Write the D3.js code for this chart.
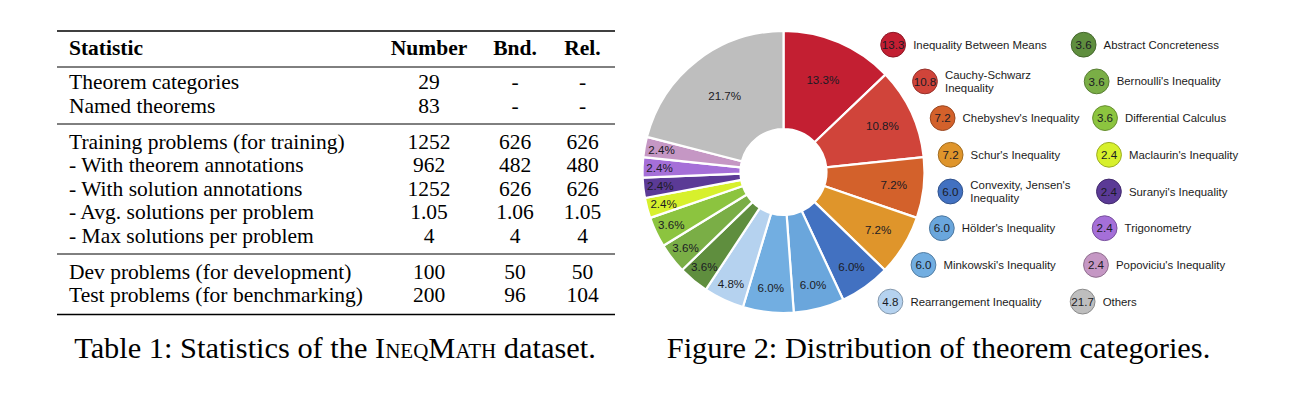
<!DOCTYPE html>
<html>
<head>
<meta charset="utf-8">
<script src="https://cdn.jsdelivr.net/npm/d3@7"></script>
<style>
  html, body { margin: 0; padding: 0; background: #fff; }
  svg { display: block; }
</style>
</head>
<body>
<svg id="chart" width="1295" height="395"></svg>
<script>
// ---------------- Data ----------------
// Table 1
const tableHeaders = ["Statistic", "Number", "Bnd.", "Rel."];
const statLabels = [
  "Theorem categories",
  "Named theorems",
  "Training problems (for training)",
  "- With theorem annotations",
  "- With solution annotations",
  "- Avg. solutions per problem",
  "- Max solutions per problem",
  "Dev problems (for development)",
  "Test problems (for benchmarking)"
];
const numberCol = ["29", "83", "1252", "962", "1252", "1.05", "4", "100", "200"];
const bndCol    = ["-", "-", "626", "482", "626", "1.06", "4", "50", "96"];
const relCol    = ["-", "-", "626", "480", "626", "1.05", "4", "50", "104"];
const sectionBreaksAfter = [1, 6];

// Figure 2: theorem categories (percent)
const categories = [
  "Inequality Between Means", "Cauchy-Schwarz\nInequality", "Chebyshev's Inequality",
  "Schur's Inequality", "Convexity, Jensen's\nInequality", "Hölder's Inequality",
  "Minkowski's Inequality", "Rearrangement Inequality", "Abstract Concreteness",
  "Bernoulli's Inequality", "Differential Calculus", "Maclaurin's Inequality",
  "Suranyi's Inequality", "Trigonometry", "Popoviciu's Inequality", "Others"
];
const shares = [13.3, 10.8, 7.2, 7.2, 6.0, 6.0, 6.0, 4.8, 3.6, 3.6, 3.6, 2.4, 2.4, 2.4, 2.4, 21.7];
const palette = [
  "#c31f32", "#d0443a", "#d3612b", "#df952b", "#4271c1", "#6aa6dc",
  "#72aee1", "#b5d2ef", "#5f8e3e", "#7aae46", "#8cc43f", "#d7f02c",
  "#5b3a96", "#a56fd8", "#c597c4", "#bebebe"
];

// ---------------- Drawing ----------------
const svg = d3.select("#chart");
const serif = "'Liberation Serif', 'Times New Roman', serif";
const sans = "'Liberation Sans', Arial, sans-serif";

// ----- Table -----
const tbl = svg.append("g");
const tableLeft = 57, tableRight = 615;
const colX = d3.scaleOrdinal().domain(["Number", "Bnd.", "Rel."]).range([429, 515, 582.5]);
const labelX = 69;
const headerBaseline = 55;
const rowBaseline = d3.scaleLinear().domain([0, 1]).range([89, 112.5]);
const sectionGap = 12.5;

function rowY(i) {
  let gaps = sectionBreaksAfter.filter(b => i > b).length;
  return rowBaseline(i) + gaps * sectionGap;
}

const fs = 21.5;
tbl.selectAll("text.hdr").data(tableHeaders).join("text")
  .attr("class", "hdr")
  .attr("x", (d, i) => i === 0 ? labelX : colX(d))
  .attr("y", headerBaseline)
  .attr("text-anchor", (d, i) => i === 0 ? "start" : "middle")
  .attr("font-family", serif).attr("font-weight", "bold").attr("font-size", fs)
  .attr("fill", "#000")
  .text(d => d);

const rows = statLabels.map((l, i) => ({ label: l, vals: [numberCol[i], bndCol[i], relCol[i]], i }));
const rg = tbl.selectAll("g.row").data(rows).join("g").attr("class", "row");
rg.append("text")
  .attr("x", labelX).attr("y", d => rowY(d.i))
  .attr("font-family", serif).attr("font-size", fs).attr("fill", "#000")
  .text(d => d.label);
rg.selectAll("text.v").data(d => d.vals.map((v, k) => ({ v, col: tableHeaders[k + 1], i: d.i })))
  .join("text").attr("class", "v")
  .attr("x", d => colX(d.col)).attr("y", d => rowY(d.i))
  .attr("text-anchor", "middle")
  .attr("font-family", serif).attr("font-size", fs).attr("fill", "#000")
  .text(d => d.v);

// rules
const rules = [
  { y: 31, w: 1.6 },
  { y: 67, w: 1.0 },
  { y: (rowY(1) + rowY(2)) / 2 - 6.5, w: 1.0 },
  { y: (rowY(6) + rowY(7)) / 2 - 6.5, w: 1.0 },
  { y: rowY(8) + 12.5, w: 1.6 }
];
tbl.selectAll("line.rule").data(rules).join("line")
  .attr("x1", tableLeft).attr("x2", tableRight)
  .attr("y1", d => d.y).attr("y2", d => d.y)
  .attr("stroke", "#000").attr("stroke-width", d => d.w);

// caption
const cap1 = tbl.append("text")
  .attr("x", 335).attr("y", 358).attr("text-anchor", "middle")
  .attr("font-family", serif).attr("font-size", 30.4).attr("fill", "#000");
cap1.append("tspan").text("Table 1: Statistics of the ");
cap1.append("tspan").attr("font-variant", "small-caps").style("font-variant", "small-caps").text("IneqMath");
cap1.append("tspan").text(" dataset.");

// ----- Donut -----
const cx = 783.5, cy = 172, outerR = 141, innerR = 43;
const pieData = categories.map((c, i) => ({ name: c, value: shares[i], color: palette[i], i }));
const pie = d3.pie().sort(null).value(d => d.value);
const arcs = pie(pieData);
const arc = d3.arc().innerRadius(innerR).outerRadius(outerR);
const labelRadius = d3.scaleLinear()
  .domain([4.8, 6.0, 7.2, 10.8, 13.3, 21.7])
  .range([124, 117, 111, 109, 100, 96]).clamp(true);

const pg = svg.append("g").attr("transform", `translate(${cx},${cy})`);
pg.selectAll("path").data(arcs).join("path")
  .attr("d", arc)
  .attr("fill", d => d.data.color)
  .attr("stroke", "#fff").attr("stroke-width", 2.2).attr("stroke-linejoin", "round");

pg.selectAll("text.pl").data(arcs).join("text")
  .attr("class", "pl")
  .attr("transform", d => {
    const a = (d.startAngle + d.endAngle) / 2;
    const r = labelRadius(d.data.value);
    return `translate(${Math.sin(a) * r},${-Math.cos(a) * r})`;
  })
  .attr("text-anchor", "middle").attr("dy", "0.35em")
  .attr("font-family", sans).attr("font-size", 11.6).attr("fill", "#1b1b24")
  .text(d => d.data.value.toFixed(1) + "%");

// ----- Legend (two arcs around the donut) -----
const legendTop = 44.7, legendStep = 36.7;
const perCol = 8;
const colRadius = [168, 326];
const lg = svg.append("g");
const items = pieData.map(d => {
  const col = Math.floor(d.i / perCol);
  const row = d.i % perCol;
  const y = legendTop + row * legendStep;
  const R = colRadius[col];
  const x = cx + Math.sqrt(R * R - (y - cy) * (y - cy));
  return { ...d, x, y };
});
const li = lg.selectAll("g.li").data(items).join("g").attr("class", "li")
  .attr("transform", d => `translate(${d.x},${d.y})`);
li.append("circle").attr("r", 12.4)
  .attr("fill", d => d.color)
  .attr("stroke", d => d3.color(d.color).darker(0.9))
  .attr("stroke-width", 1);
li.append("text")
  .attr("text-anchor", "middle").attr("dy", "0.36em")
  .attr("font-family", sans).attr("font-size", 11.6).attr("fill", "#1b1b24")
  .text(d => d.value.toFixed(1));
li.each(function(d) {
  const lines = d.name.split("\n");
  const t = d3.select(this).append("text")
    .attr("x", 20)
    .attr("font-family", sans).attr("font-size", 11.4).attr("fill", "#1b1b1b");
  lines.forEach((ln, k) => {
    t.append("tspan").attr("x", 20)
      .attr("y", (k - (lines.length - 1) / 2) * 13.4)
      .attr("dy", "0.35em").text(ln);
  });
});

// caption
svg.append("text")
  .attr("x", 938.5).attr("y", 358).attr("text-anchor", "middle")
  .attr("font-family", serif).attr("font-size", 30.4).attr("fill", "#000")
  .text("Figure 2: Distribution of theorem categories.");
</script>
</body>
</html>
